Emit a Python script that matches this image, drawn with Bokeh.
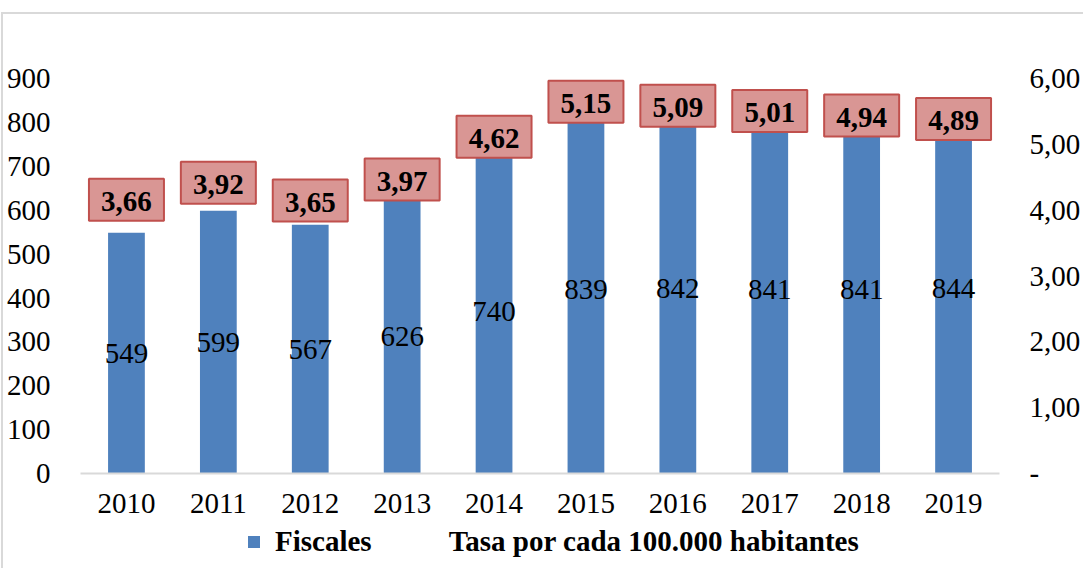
from bokeh.plotting import figure
from bokeh.layouts import column
from bokeh.models import (Range1d, LinearAxis, FixedTicker, Legend, LegendItem,
                          ColumnDataSource, FactorRange)
from bokeh.core.properties import value
from bokeh.embed import file_html
from bokeh.resources import INLINE

years = ["2010", "2011", "2012", "2013", "2014", "2015", "2016", "2017", "2018", "2019"]
fiscales = [549, 599, 567, 626, 740, 839, 842, 841, 841, 844]
tasa = [3.66, 3.92, 3.65, 3.97, 4.62, 5.15, 5.09, 5.01, 4.94, 4.89]
left_ticks = [0, 100, 200, 300, 400, 500, 600, 700, 800, 900]
right_ticks = [0, 1, 2, 3, 4, 5, 6]
right_labels = ["-", "1,00", "2,00", "3,00", "4,00", "5,00", "6,00"]
series_names = ["Fiscales", "Tasa por cada 100.000 habitantes"]

FONT = "Liberation Serif"
FS = "29px"
BLUE = "#4F81BD"

left_end = 1010
right_end = left_end / 150.0
label_lift = 0.5  # label sits above the (hidden) line point

src = ColumnDataSource(dict(
    year=years,
    fiscales=fiscales,
    mid=[v / 2 for v in fiscales],
    flabel=[str(v) for v in fiscales],
    tasa=tasa,
    tpos=[t + label_lift for t in tasa],
    tlabel=[f"{t:.2f}".replace(".", ",") for t in tasa],
))

p = figure(x_range=FactorRange(*years), y_range=Range1d(0, left_end),
           frame_width=919, frame_height=443, output_backend="svg", toolbar_location=None,
           min_border_left=71, min_border_right=10, min_border_top=16, min_border_bottom=50)
p.extra_y_ranges = {"rate": Range1d(0, right_end)}

p.outline_line_color = None
p.xgrid.grid_line_color = None
p.ygrid.grid_line_color = None
p.background_fill_color = "white"
p.border_fill_color = "white"

bars = p.vbar(x="year", top="fiscales", width=0.4, source=src, fill_color=BLUE, line_color=None)
line = p.line(x="year", y="tasa", source=src, y_range_name="rate", line_alpha=0)

p.text(x="year", y="mid", text="flabel", source=src, text_font=value(FONT),
       text_font_size=FS, text_align="center", text_baseline="middle", text_color="black")

p.rect(x="year", y="tpos", width=75, height=42, width_units="screen", height_units="screen",
       source=src, y_range_name="rate", fill_color="#D99694", line_color="#C0504D", line_width=2)
p.text(x="year", y="tpos", text="tlabel", source=src, y_range_name="rate",
       text_font=value(FONT), text_font_size=FS, text_font_style="bold",
       text_align="center", text_baseline="middle", text_color="black", y_offset=2)

# left axis
ya = p.yaxis[0]
ya.ticker = FixedTicker(ticks=left_ticks)
ya.axis_line_color = None
ya.major_tick_line_color = None
ya.minor_tick_line_color = None
ya.major_label_text_font = FONT
ya.major_label_text_font_size = FS
ya.major_label_text_color = "black"
ya.major_label_standoff = 24

# x axis
xa = p.xaxis[0]
xa.axis_line_color = "#D9D9D9"
xa.axis_line_width = 2
xa.major_tick_line_color = None
xa.minor_tick_line_color = None
xa.major_label_text_font = FONT
xa.major_label_text_font_size = FS
xa.major_label_text_color = "black"
xa.major_label_standoff = 14

# right axis
ra = LinearAxis(y_range_name="rate", ticker=FixedTicker(ticks=right_ticks))
ra.major_label_overrides = {t: l for t, l in zip(right_ticks, right_labels)}
ra.axis_line_color = None
ra.major_tick_line_color = None
ra.minor_tick_line_color = None
ra.major_label_text_font = FONT
ra.major_label_text_font_size = FS
ra.major_label_text_color = "black"
ra.major_label_standoff = 24
p.add_layout(ra, "right")

# legend strip (separate figure below the chart, frame aligned with the chart's)
lg = figure(frame_width=919, frame_height=45, x_range=Range1d(0, 1), y_range=Range1d(0, 1),
            x_axis_type=None, y_axis_type=None, output_backend="svg", toolbar_location=None,
            min_border_left=71, min_border_right=10, min_border_top=0, min_border_bottom=0)
lg.outline_line_color = None
lg.background_fill_color = "white"
lg.border_fill_color = "white"
offscreen = ColumnDataSource(dict(x=[-5], y=[-5]))
lbar = lg.vbar(x="x", top="y", width=0.1, source=offscreen, fill_color=BLUE, line_color=None)
lline = lg.line(x="x", y="y", source=offscreen, line_alpha=0)

legend = Legend(items=[LegendItem(label=series_names[0], renderers=[lbar]),
                       LegendItem(label=series_names[1], renderers=[lline])],
                orientation="horizontal", location=(166, 10),
                glyph_width=15, glyph_height=15, label_standoff=14, spacing=48,
                label_text_font=FONT, label_text_font_size=FS, label_text_font_style="bold",
                label_text_color="black", border_line_alpha=0, background_fill_alpha=0,
                padding=0, margin=0)
lg.add_layout(legend, "center")

layout = column(p, lg, spacing=0, margin=(12, 0, 0, 1),
                styles={"border-top": "2px solid #D9D9D9", "border-left": "2px solid #D9D9D9"})
open("out.html", "w").write(file_html(layout, INLINE))
